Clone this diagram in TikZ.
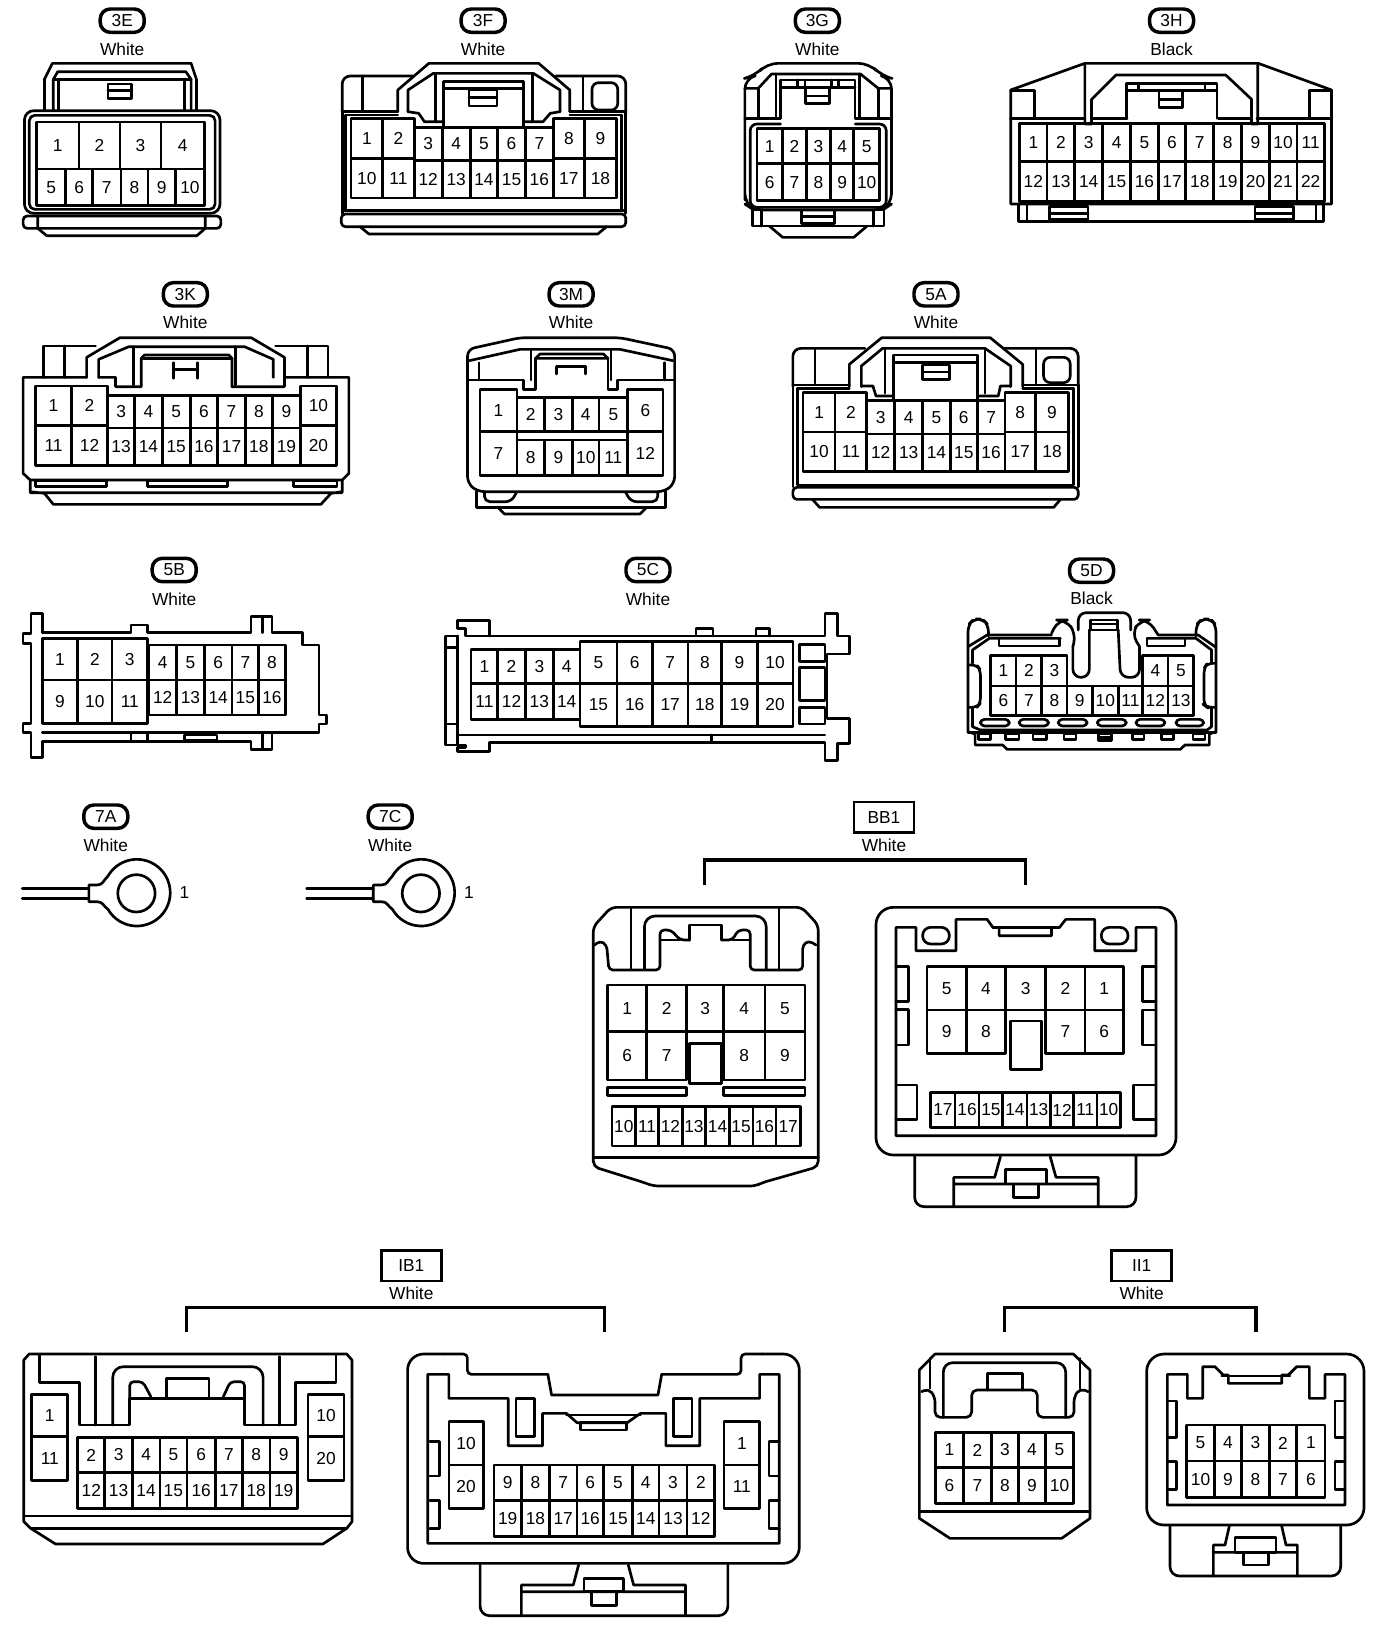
\documentclass[tikz,border=0pt]{standalone}
\usepackage{fontspec}
\setmainfont{Liberation Sans}
\tikzset{
 ln/.style={line width=2pt,line join=round,line cap=round},
 pinlab/.style={font=\fontsize{13}{13}\selectfont,inner sep=0pt},
 colorlab/.style={font=\fontsize{13}{13}\selectfont,inner sep=0pt},
 pilltag/.style={draw,line width=2.6pt,rounded corners=7.5pt,minimum width=33pt,minimum height=17.5pt,inner sep=0pt,font=\fontsize{13}{13}\selectfont},
 boxtag/.style={draw,line width=2.2pt,minimum width=45pt,minimum height=23pt,inner sep=0pt,font=\fontsize{13}{13}\selectfont},
 brk/.style={line width=2.4pt,line join=miter},
 zone/.style 2 args={x=0.33333pt,y=-0.25pt,shift={(#1pt,#2pt)}},
 zoneb/.style={x=0.39700pt,y=-0.25pt,shift={(0pt,-930pt)}},
 zonec/.style={x=0.25pt,y=-0.25pt,shift={(660pt,-930pt)}},
}
\newcommand\pinrow[4]{% y1 y2 x0 {x/label,...}
 \foreach \b/\l [remember=\b as \a (initially #3)] in {#4}{
  \draw[ln] (\a,#1) rectangle (\b,#2);
  \node[pinlab] (\pre-\l) at ({(\a+\b)/2},{(#1+#2)/2}) {\l};
 }}
\newcommand\pintag[5]{% name x y ycolor color
 \node[pilltag] (#1) at (#2,#3) {#1};
 \node[colorlab] (#1-color) at (#2,#4) {#5};}
\newcommand\squaretag[5]{%
 \node[boxtag] (#1) at (#2,#3) {#1};
 \node[colorlab] (#1-color) at (#2,#4) {#5};}
\newcommand\ringterm[2]{% name, x offset
 \draw[ln] (#2+50,295)--(#2+200,295) (#2+50,325)--(#2+200,325);
 \draw[ln] (#2+200,325)--(#2+200,285)--(#2+218,285) .. controls (#2+232,285) and (#2+232,272) .. (#2+243,258) arc[start angle=150,end angle=-150,radius=25pt] .. controls (#2+232,348) and (#2+232,335) .. (#2+218,335)--(#2+200,335)--(#2+200,325);
 \node[draw,circle,line width=2pt,minimum size=28pt,inner sep=0pt] (#1-ring) at (#2+307,310) {};
 \node[pinlab] (#1-pin) at (#2+415,308) {1};}
\begin{document}
\begin{tikzpicture}
\fill[white] (0,0) rectangle (1044pt,-1228.5pt);
\useasboundingbox (0,0) rectangle (1044pt,-1228.5pt);

% ---------- row 1 left
\begin{scope}[zone={0}{0}]
\pintag{3E}{275}{62}{148}{White}
\def\pre{3E}
\draw[ln] (100,330)--(100,238)--(118,190)--(430,190)--(442,238)--(442,330);
\draw[ln] (120,330)--(120,238)--(130,215)--(418,215)--(430,238)--(430,330);
\draw[ln] (120,238)--(430,238) (132,238)--(132,330) (415,238)--(415,330);
\draw[ln] (243,252) rectangle (296,295) (243,272)--(296,272);
\draw[ln,rounded corners=7pt] (55,332) rectangle (495,640);
\draw[ln,rounded corners=4pt] (66,346) rectangle (484,628);
\pinrow{366}{507}{82}{178/1,270/2,362/3,460/4}
\pinrow{507}{616}{82}{148/5,208/6,272/7,333/8,395/9,460/10}
\draw[ln,rounded corners=3pt] (52,648) rectangle (497,685);
\draw[ln] (85,648)--(85,685)--(105,707)--(443,707)--(462,685)--(462,648);

\pintag{3F}{1087}{62}{148}{White}
\def\pre{3F}
\draw[ln,rounded corners=6pt] (770,335)--(770,228)--(930,228);
\draw[ln,rounded corners=6pt] (1250,228)--(1408,228)--(1408,340);
\draw[ln] (895,335)--(895,270)--(965,190)--(1212,190)--(1282,270)--(1282,335);
\draw[ln] (918,335)--(918,270)--(975,220)--(1200,220)--(1260,270)--(1260,335);
\draw[ln] (815,228)--(815,335) (1312,228)--(1312,335);
\draw[ln,rounded corners=5pt] (1332,248) rectangle (1390,330);
\draw[ln] (770,335)--(895,335) (1282,335)--(1408,335);
\draw[ln] (778,345)--(895,345) (1282,345)--(1398,345) (778,345)--(778,632) (1398,345)--(1398,632);
\draw[ln] (980,220)--(980,365) (1198,220)--(1198,365);
\draw[ln] (998,245)--(1178,245) (998,265)--(1178,265) (998,245)--(998,382) (1178,245)--(1178,382);
\draw[ln] (1055,270) rectangle (1118,318) (1055,293)--(1118,293);
\draw[ln] (918,335)--(942,340)--(955,365)--(998,365) (1178,365)--(1222,365)--(1238,340)--(1260,335);
\pinrow{356}{476}{790}{861/1,932/2}
\pinrow{382}{482}{932}{995/3,1058/4,1120/5,1182/6,1245/7}
\pinrow{356}{476}{1245}{1315/8,1387/9}
\pinrow{476}{594}{790}{861/10,932/11}
\pinrow{482}{594}{932}{995/12,1058/13,1120/14,1182/15,1245/16}
\pinrow{476}{594}{1245}{1315/17,1387/18}
\draw[ln] (770,335)--(770,640) (1408,335)--(1408,640);
\draw[ln] (770,632)--(1408,632);
\draw[ln,rounded corners=3pt] (768,642) rectangle (1408,680);
\draw[ln] (810,680)--(830,702)--(1345,702)--(1365,680);
\end{scope}

% ---------- row 1 right
\begin{scope}[zone={522}{0}]
\pintag{3G}{273}{62}{148}{White}
\def\pre{3G}
\draw[ln,rounded corners=8pt] (110,600)--(110,612)--(130,630)--(420,630)--(440,612)--(440,235)--(418,228)--(390,190)--(160,190)--(132,228)--(110,235)--(110,600);
\draw[ln] (110,265)--(140,265)--(170,222)--(370,222)--(410,265)--(440,265);
\draw[ln] (140,265)--(140,355) (410,265)--(410,355) (180,222)--(180,355) (368,222)--(368,355);
\draw[ln] (110,355)--(190,355)--(190,240)--(358,240)--(358,355)--(440,355);
\draw[ln] (190,262)--(358,262) (228,240)--(228,262) (245,240)--(245,262) (305,240)--(305,262) (320,240)--(320,262);
\draw[ln] (247,262) rectangle (300,310) (247,288)--(300,288);
\draw[ln,rounded corners=5pt] (190,372)--(122,372)--(122,622)--(428,622)--(428,372)--(358,372);
\pinrow{386}{491}{137}{195/1,248/2,303/3,355/4,413/5}
\pinrow{491}{602}{137}{195/6,248/7,303/8,355/9,413/10}
\draw[ln] (127,630) rectangle (423,678) (148,630)--(148,678) (400,630)--(400,678);
\draw[ln] (238,630) rectangle (312,670) (238,650)--(312,650);
\draw[ln] (165,678)--(195,712)--(355,712)--(385,678);

\pintag{3H}{1070}{62}{148}{Black}
\def\pre{3H}
\draw[ln] (708,612)--(708,270)--(875,190)--(1265,190)--(1430,270)--(1430,612)--cycle;
\draw[ln] (708,272)--(762,272)--(762,355) (1430,272)--(1380,272)--(1380,355);
\draw[ln] (708,355)--(875,355) (1262,355)--(1430,355);
\draw[ln] (875,195)--(875,372)--(890,372)--(890,298)--(945,225)--(1192,225)--(1250,298)--(1250,372)--(1264,372)--(1264,195);
\draw[ln] (890,355)--(970,355) (1175,355)--(1250,355);
\draw[ln] (968,355)--(968,250)--(1172,250)--(1172,355) (968,272)--(1172,272) (995,250)--(995,272) (1145,250)--(1145,272);
\draw[ln] (1042,272) rectangle (1095,322) (1042,298)--(1095,298);
\pinrow{370}{485}{728}{790/1,852/2,915/3,978/4,1040/5,1102/6,1165/7,1228/8,1290/9,1352/10,1414/11}
\pinrow{485}{604}{728}{790/12,852/13,915/14,978/15,1040/16,1102/17,1165/18,1228/19,1290/20,1352/21,1414/22}
\draw[ln] (725,612)--(725,665)--(1412,665)--(1412,612) (745,612)--(745,665) (1395,612)--(1395,665);
\draw[ln] (795,620) rectangle (882,658) (795,640)--(882,640);
\draw[ln] (1258,620) rectangle (1345,658) (1258,640)--(1345,640);
\end{scope}

% ---------- row 2 left
\begin{scope}[zone={0}{-202.5}]
\pintag{3K}{417}{73}{158}{White}
\def\pre{3K}
\draw[ln] (195,322)--(52,322)--(52,610)--(68,630)--(770,630)--(785,610)--(785,322)--(640,322);
\draw[ln] (98,322)--(98,228)--(215,228) (620,228)--(738,228)--(738,322) (145,228)--(145,322) (692,228)--(692,322);
\draw[ln] (195,322)--(195,262)--(270,203)--(565,203)--(640,262)--(640,350)--(522,350);
\draw[ln] (222,322)--(222,268)--(290,230)--(550,230)--(615,268)--(615,322);
\draw[ln] (222,322)--(260,322)--(260,350)--(318,350)--(318,265)--(325,255)--(515,255)--(522,265)--(522,350);
\draw[ln] (318,265)--(522,265) (300,230)--(300,345) (530,230)--(530,345);
\draw[ln] (390,278)--(390,325) (445,278)--(445,325) (390,298)--(445,298);
\pinrow{348}{467}{80}{161/1,242/2}
\pinrow{376}{474}{242}{303/3,365/4,428/5,490/6,552/7,613/8,676/9}
\pinrow{348}{467}{676}{757/10}
\pinrow{467}{587}{80}{161/11,242/12}
\pinrow{474}{587}{242}{303/13,365/14,428/15,490/16,552/17,613/18,676/19}
\pinrow{467}{587}{676}{757/20}
\draw[ln] (68,630)--(68,665)--(100,670)--(120,703)--(722,703)--(745,670)--(770,665)--(770,630) (68,668)--(770,668);
\draw[ln] (80,632) rectangle (240,650) (332,632) rectangle (512,650) (660,632) rectangle (758,650);

\pintag{3M}{1285}{73}{158}{White}
\def\pre{3M}
\draw[ln,rounded corners=5pt] (1052,330)--(1052,238)--(1170,203)--(1395,203)--(1518,238)--(1518,640)--(1495,665)--(1075,665)--(1052,640)--cycle;
\draw[ln] (1056,272)--(1170,238)--(1395,238)--(1514,272);
\draw[ln] (1052,330)--(1178,330)--(1178,358)--(1205,358)--(1205,265) (1518,330)--(1390,330)--(1390,358)--(1368,358)--(1368,265);
\draw[ln] (1078,278)--(1078,330) (1495,278)--(1495,330) (1195,240)--(1195,330) (1375,240)--(1375,330);
\draw[ln] (1205,265)--(1215,252)--(1358,252)--(1368,265)--cycle;
\draw[ln] (1252,290)--(1318,290) (1252,312)--(1252,290) (1318,312)--(1318,290);
\pinrow{358}{485}{1080}{1163/1}
\pinrow{485}{617}{1080}{1163/7}
\pinrow{383}{485}{1163}{1225/2,1288/3,1348/4,1412/5}
\pinrow{358}{485}{1412}{1492/6}
\pinrow{485}{617}{1412}{1492/12}
\pinrow{510}{617}{1163}{1225/8,1288/9,1348/10,1412/11}
\draw[ln] (1072,665)--(1072,712)--(1498,712)--(1498,665);
\draw[ln,rounded corners=4pt] (1090,665)--(1090,695)--(1150,695)--(1162,668);
\draw[ln,rounded corners=4pt] (1480,665)--(1480,695)--(1420,695)--(1408,668);
\draw[ln] (1120,712)--(1135,732)--(1440,732)--(1455,712);
\end{scope}

\begin{scope}[zone={522}{-202.5}]
\pintag{5A}{540}{73}{158}{White}
\def\pre{5A}
\draw[ln,rounded corners=6pt] (218,350)--(218,235)--(380,235);
\draw[ln,rounded corners=6pt] (695,235)--(860,235)--(860,350);
\draw[ln] (345,350)--(345,283)--(418,203)--(662,203)--(735,283)--(735,350);
\draw[ln] (372,350)--(372,288)--(420,235)--(650,235)--(708,288)--(708,350);
\draw[ln] (268,235)--(268,340) (765,240)--(765,340);
\draw[ln,rounded corners=5pt] (782,262) rectangle (842,338);
\draw[ln] (218,345)--(345,345) (735,345)--(860,345);
\draw[ln] (218,345)--(218,650) (860,345)--(860,650);
\draw[ln] (228,355)--(345,355) (735,355)--(850,355) (228,355)--(228,645)--(850,645)--(850,355);
\draw[ln] (445,255) rectangle (633,278) (445,278)--(445,388) (633,278)--(633,388);
\draw[ln] (425,235)--(425,370) (650,235)--(650,370);
\draw[ln] (510,285) rectangle (570,328) (510,306)--(570,306);
\draw[ln] (372,348)--(398,348)--(405,378)--(445,378) (633,378)--(680,378)--(685,348)--(708,348);
\pinrow{367}{486}{241}{313/1,384/2}
\pinrow{391}{492}{384}{447/3,510/4,572/5,633/6,695/7}
\pinrow{367}{486}{695}{764/8,838/9}
\pinrow{486}{604}{241}{313/10,384/11}
\pinrow{492}{604}{384}{447/12,510/13,572/14,633/15,695/16}
\pinrow{486}{604}{695}{764/17,838/18}
\draw[ln,rounded corners=3pt] (218,652) rectangle (860,688);
\draw[ln] (262,688)--(278,712)--(805,712)--(820,688);
\end{scope}

% ---------- row 3
\begin{scope}[zone={0}{-412.5}]
\pintag{5B}{392}{60}{147}{White}
\def\pre{5B}
\draw[ln] (95,248)--(95,190)--(70,190)--(70,250)--(52,250)--(52,280)--(70,280)--(70,520)--(52,520)--(52,548)--(70,548)--(70,622)--(95,622)--(95,575)--(565,575)--(565,598)--(612,598)--(612,548)--(718,548)--(718,522)--(735,522)--(735,495)--(718,495)--(718,285)--(680,285)--(680,248)--(612,248)--(612,200)--(565,200)--(565,248)--(332,248)--(332,225)--(295,225)--(295,248)--(95,248);
\draw[ln] (590,200)--(590,248) (590,548)--(590,598) (95,548)--(612,548);
\draw[ln] (295,548)--(295,575) (332,548)--(332,575) (415,555) rectangle (488,570);
\pinrow{265}{390}{95}{175/1,252/2,332/3}
\pinrow{390}{520}{95}{175/9,252/10,332/11}
\pinrow{285}{390}{335}{397/4,460/5,522/6,582/7,642/8}
\pinrow{390}{495}{335}{397/12,460/13,522/14,582/15,642/16}

\pintag{5C}{1458}{60}{147}{White}
\def\pre{5C}
\draw[ln] (1030,258)--(1002,258)--(1002,585)--(1048,585)--(1048,592)--(1030,592)--(1030,605)--(1102,605)--(1102,578)--(1856,578)--(1856,632)--(1884,632)--(1884,580)--(1911,580)--(1911,505)--(1861,505)--(1861,312)--(1911,312)--(1911,258)--(1884,258)--(1884,190)--(1856,190)--(1856,258)--(1048,258)--(1048,235)--(1030,235)--(1030,212)--(1102,212)--(1102,258);
\draw[ln] (1030,258)--(1030,585) (1002,292)--(1030,292) (1002,522)--(1030,522);
\draw[ln] (1030,555)--(1856,555);
\draw[ln] (1601,555)--(1601,578);
\draw[ln] (1566,258)--(1566,235)--(1604,235)--(1604,258) (1701,258)--(1701,235)--(1731,235)--(1731,258);
\draw[ln] (1799,283) rectangle (1856,335) (1799,352) rectangle (1856,452) (1799,472) rectangle (1856,522);
\pinrow{298}{400}{1060}{1120/1,1182/2,1245/3,1305/4}
\pinrow{400}{508}{1060}{1120/11,1182/12,1245/13,1305/14}
\pinrow{275}{400}{1305}{1388/5,1468/6,1548/7,1624/8,1704/9,1784/10}
\pinrow{400}{530}{1305}{1388/15,1468/16,1548/17,1624/18,1704/19,1784/20}
\end{scope}

\begin{scope}[zone={522}{-412.5}]
\pintag{5D}{890}{62}{145}{Black}
\def\pre{5D}
\draw[ln,rounded corners=5pt] (612,265)--(612,225)--(625,207)--(645,207)--(658,225)--(658,258);
\draw[ln,rounded corners=5pt] (1125,258)--(1125,225)--(1138,207)--(1158,207)--(1170,225)--(1170,285);
\draw[ln] (612,265)--(612,545)--(628,552)--(628,585)--(690,585)--(700,598)--(1090,598)--(1100,585)--(1155,585)--(1155,552)--(1170,545)--(1170,285);
\draw[ln] (612,548)--(1170,548);
\draw[ln] (612,290)--(655,255)--(800,255) (1040,255)--(1130,255)--(1170,292);
\draw[ln] (622,340)--(622,300)--(660,265)--(820,265) (1015,265)--(1125,265)--(1160,300)--(1160,340);
\draw[ln] (622,472)--(622,530)--(640,540)--(1150,540)--(1160,530)--(1160,472);
\draw[ln,rounded corners=4pt] (612,345)--(632,345)--(640,360)--(640,460)--(632,472)--(612,472);
\draw[ln,rounded corners=4pt] (1170,340)--(1150,340)--(1143,355)--(1143,465)--(1150,472)--(1170,472);
\draw[ln] (682,265)--(682,288)--(818,288)--(818,265) (1015,265)--(1015,288)--(1100,288)--(1100,265);
\draw[ln,rounded corners=6pt] (860,240)--(860,188)--(978,188)--(978,240);
\draw[ln] (888,240)--(888,210)--(948,210)--(948,240) (885,240)--(950,240) (888,222)--(948,222);
\draw[ln,rounded corners=6pt] (848,290)--(848,382)--(885,382)--(885,240);
\draw[ln,rounded corners=6pt] (950,240)--(955,382)--(998,382)--(998,290);
\draw[ln,rounded corners=7pt] (800,250)--(815,210)--(832,210)--(855,250)--(848,290);
\draw[ln,rounded corners=7pt] (1040,255)--(1018,210)--(1000,210)--(980,250)--(998,290);
\pinrow{316}{408}{663}{720/1,778/2,835/3}
\pinrow{316}{408}{1005}{1062/4,1120/5}
\pinrow{408}{497}{663}{720/6,778/7,835/8,892/9,950/10,1005/11,1062/12,1120/13}
\foreach \p/\q in {640/705,727/793,815/880,903/968,990/1055,1080/1142}{
 \draw[ln,rounded corners=3pt] (\p,508) rectangle (\q,528);}
\foreach \p/\q in {635/662,697/727,758/788,828/855,982/1008,1047/1075,1118/1145}{
 \draw[ln] (\p,552) rectangle (\q,568);}
\draw[ln] (905,552) rectangle (935,572) (905,562)--(935,562);
\end{scope}

% ---------- ring terminals + BB1 left
\begin{scope}[zone={0}{-592.5}]
\pintag{7A}{238}{80}{165}{White}
\ringterm{7A}{0}
\pintag{7C}{878}{80}{165}{White}
\ringterm{7C}{640}
\def\pre{BB1L}
\draw[ln,rounded corners=4pt] (1335,480)--(1335,410)--(1375,352)--(1804,352)--(1841,405)--(1841,1130)--(1715,1178)--(1700,1188)--(1470,1188)--(1450,1178)--(1335,1130)--cycle;
\draw[ln] (1335,1103)--(1841,1103);
\draw[ln,rounded corners=3pt] (1338,465)--(1350,452)--(1365,465)--(1370,540)--(1485,540)--(1485,420)--(1510,420)--(1530,450)--(1552,450);
\draw[ln,rounded corners=3pt] (1836,465)--(1820,452)--(1806,465)--(1806,540)--(1688,540)--(1688,420)--(1661,420)--(1648,450)--(1624,450);
\draw[ln] (1485,450)--(1530,450) (1552,450)--(1552,405)--(1624,405)--(1624,450) (1648,450)--(1688,450);
\draw[ln,rounded corners=6pt] (1420,538)--(1420,352) (1753,538)--(1753,352);
\draw[ln,rounded corners=8pt] (1450,538)--(1450,378)--(1724,378)--(1724,538);
\pinrow{585}{725}{1367}{1455/1,1545/2,1628/3,1721/4,1811/5}
\pinrow{725}{870}{1367}{1455/6,1545/7}
\pinrow{725}{870}{1628}{1721/8,1811/9}
\draw[ln] (1552,760) rectangle (1624,880);
\draw[ln] (1367,892) rectangle (1545,917) (1628,892) rectangle (1811,917);
\pinrow{950}{1068}{1377}{1430/10,1482/11,1535/12,1588/13,1641/14,1694/15,1746/16,1801/17}
\end{scope}

\begin{scope}[zone={522}{-592.5}]
\squaretag{BB1}{423}{82}{165}{White}
\coordinate (bbl) at (20,285);
\coordinate (bbr) at (742,285);
\draw[brk] (bbl)--(20,210)--(742,210)--(bbr);
\def\pre{BB1R}
\draw[ln,rounded corners=13pt] (405,352) rectangle (1080,1095);
\draw[ln] (450,1037)--(450,412)--(495,412)--(495,482)--(585,482)--(585,388)--(655,388)--(668,412)--(682,412)--(682,437)--(800,437)--(800,412)--(818,412)--(832,388)--(897,388)--(897,482)--(990,482)--(990,412)--(1035,412)--(1035,1037)--cycle;
\draw[ln] (668,412)--(818,412);
\draw[ln,rounded corners=6pt] (510,412) rectangle (570,462) (912,412) rectangle (972,462);
\draw[ln] (450,530)--(478,530)--(478,635)--(450,635) (450,658)--(478,658)--(478,765)--(450,765) (1035,530)--(1005,530)--(1005,635)--(1035,635) (1035,660)--(1005,660)--(1005,765)--(1035,765);
\draw[ln] (450,885)--(497,885)--(497,988)--(450,988) (1035,885)--(985,885)--(985,988)--(1035,988);
\pinrow{530}{660}{520}{608/5,697/4,787/3,875/2,962/1}
\pinrow{660}{790}{520}{608/9,697/8}
\pinrow{660}{790}{787}{875/7,962/6}
\draw[ln,fill=white] (707,693) rectangle (777,838);
\pinrow{908}{1012}{528}{583/17,637/16,690/15,745/14,797/13,850/12,902/11,955/10}
\draw[ln,rounded corners=7pt] (492,1097)--(492,1250)--(990,1250)--(990,1097);
\draw[ln] (685,1100)--(672,1162)--(580,1162)--(580,1250) (797,1100)--(810,1162)--(905,1162)--(905,1250) (580,1182)--(905,1182);
\draw[ln] (697,1138) rectangle (788,1182) (715,1182) rectangle (770,1222);
\end{scope}

% ---------- IB1
\begin{scope}[zoneb]
\squaretag{IB1}{777}{77}{160}{White}
\coordinate (ibl) at (352,277);
\coordinate (ibr) at (1142,277);
\draw[brk] (ibl)--(352,203)--(1142,203)--(ibr);
\def\pre{IB1L}
\draw[ln] (45,360)--(55,342)--(655,342)--(665,360)--(665,845)--(655,865)--(610,912)--(105,912)--(58,865)--(45,845)--cycle;
\draw[ln] (45,828)--(665,828) (58,865)--(655,865);
\draw[ln] (75,345)--(75,428)--(150,428)--(150,555)--(245,555)--(245,475)--(462,475)--(462,555)--(558,555)--(558,428)--(635,428)--(635,345);
\draw[ln,rounded corners=5pt] (180,555)--(180,350) (528,555)--(528,350);
\draw[ln,rounded corners=8pt] (213,555)--(213,380)--(497,380)--(497,555);
\draw[ln,rounded corners=3pt] (245,475)--(245,425)--(270,425)--(285,470);
\draw[ln,rounded corners=3pt] (462,475)--(462,425)--(435,425)--(422,470);
\draw[ln] (315,475)--(315,415)--(395,415)--(395,475);
\pinrow{463}{590}{60}{128/1}
\pinrow{590}{722}{60}{128/11}
\pinrow{463}{590}{582}{650/10}
\pinrow{590}{722}{582}{650/20}
\pinrow{592}{698}{147}{198/2,250/3,302/4,353/5,407/6,458/7,510/8,562/9}
\pinrow{698}{805}{147}{198/12,250/13,302/14,353/15,407/16,458/17,510/18,562/19}

\def\pre{IB1R}
\draw[ln] (1035,403)--(1042,465)--(1243,465)--(1250,403);
\draw[ln,rounded corners=3pt] (1035,403)--(883,403)--(883,342)--(840,342);
\draw[ln,rounded corners=3pt] (1250,403)--(1400,403)--(1400,342)--(1440,342);
\draw[ln,rounded corners=12pt] (840,342)--(770,342)--(770,970)--(1510,970)--(1510,342)--(1440,342);
\draw[ln] (808,910)--(808,403)--(848,403)--(848,475)--(960,475)--(960,617)--(1025,617)--(1025,520)--(1070,520)--(1090,548)--(1185,548)--(1210,520)--(1258,520)--(1258,617)--(1322,617)--(1322,475)--(1435,475)--(1435,403)--(1472,403)--(1472,910)--cycle;
\draw[ln] (1070,525)--(1210,525) (1097,548) rectangle (1183,570);
\draw[ln] (975,475) rectangle (1010,590) (1272,475) rectangle (1307,590);
\draw[ln] (812,605)--(830,605)--(830,708)--(812,708) (812,782)--(830,782)--(830,865)--(812,865) (1472,605)--(1453,605)--(1453,708)--(1472,708) (1472,782)--(1453,782)--(1453,865)--(1472,865);
\pinrow{545}{675}{848}{913/10}
\pinrow{675}{805}{848}{913/20}
\pinrow{545}{675}{1368}{1435/1}
\pinrow{675}{805}{1368}{1435/11}
\pinrow{675}{782}{933}{985/9,1038/8,1090/7,1140/6,1195/5,1245/4,1298/3,1350/2}
\pinrow{782}{890}{933}{985/19,1038/18,1090/17,1140/16,1195/15,1245/14,1298/13,1350/12}
\draw[ln,rounded corners=7pt] (907,972)--(907,1127)--(1375,1127)--(1375,972);
\draw[ln] (1093,975)--(1083,1035)--(985,1035)--(985,1127) (1187,975)--(1197,1035)--(1295,1035)--(1295,1127) (985,1055)--(1295,1055);
\draw[ln] (1103,1015) rectangle (1178,1055) (1118,1055) rectangle (1165,1097);
\end{scope}

% ---------- II1
\begin{scope}[zonec]
\squaretag{II1}{785}{77}{160}{White}
\coordinate (iil) at (373,277);
\coordinate (iir) at (1128,277);
\draw[brk] (iil)--(373,203)--(1128,203)--(iir);
\def\pre{II1L}
\draw[ln] (118,390)--(165,342)--(580,342)--(630,390)--(630,835)--(545,895)--(210,895)--(118,835)--cycle;
\draw[ln] (118,815)--(630,815);
\draw[ln,rounded corners=4pt] (125,455)--(145,445)--(165,470)--(165,532)--(275,532)--(275,450)--(472,450)--(472,532)--(582,532)--(582,470)--(600,445)--(625,455);
\draw[ln] (150,355)--(150,445) (600,355)--(600,445);
\draw[ln,rounded corners=7pt] (190,532)--(190,368)--(557,368)--(557,532);
\draw[ln] (322,450)--(322,400)--(427,400)--(427,450);
\pinrow{578}{682}{167}{250/1,335/2,415/3,497/4,580/5}
\pinrow{682}{790}{167}{250/6,335/7,415/8,497/9,580/10}

\def\pre{II1R}
\draw[ln,rounded corners=13pt] (800,342) rectangle (1452,855);
\draw[ln] (862,795)--(862,403)--(922,403)--(922,475)--(968,475)--(968,380)--(1005,380)--(1030,405)--(1045,405)--(1045,430)--(1205,430)--(1205,405)--(1225,405)--(1250,380)--(1288,380)--(1288,475)--(1335,475)--(1335,403)--(1395,403)--(1395,795)--cycle;
\draw[ln] (1025,408)--(1230,408);
\draw[ln] (862,483)--(890,483)--(890,593)--(862,593) (862,665)--(890,665)--(890,748)--(862,748) (1395,483)--(1365,483)--(1365,593)--(1395,593) (1395,665)--(1365,665)--(1365,748)--(1395,748);
\pinrow{555}{663}{920}{1003/5,1085/4,1168/3,1250/2,1335/1}
\pinrow{663}{772}{920}{1003/10,1085/9,1168/8,1250/7,1335/6}
\draw[ln,rounded corners=7pt] (870,857)--(870,1008)--(1382,1008)--(1382,857);
\draw[ln] (1048,858)--(1035,915)--(1000,915)--(1000,1008) (1205,858)--(1218,915)--(1252,915)--(1252,1008) (1000,937)--(1252,937);
\draw[ln] (1065,892) rectangle (1188,937) (1090,937) rectangle (1165,975);
\end{scope}
\end{tikzpicture}
\end{document}
